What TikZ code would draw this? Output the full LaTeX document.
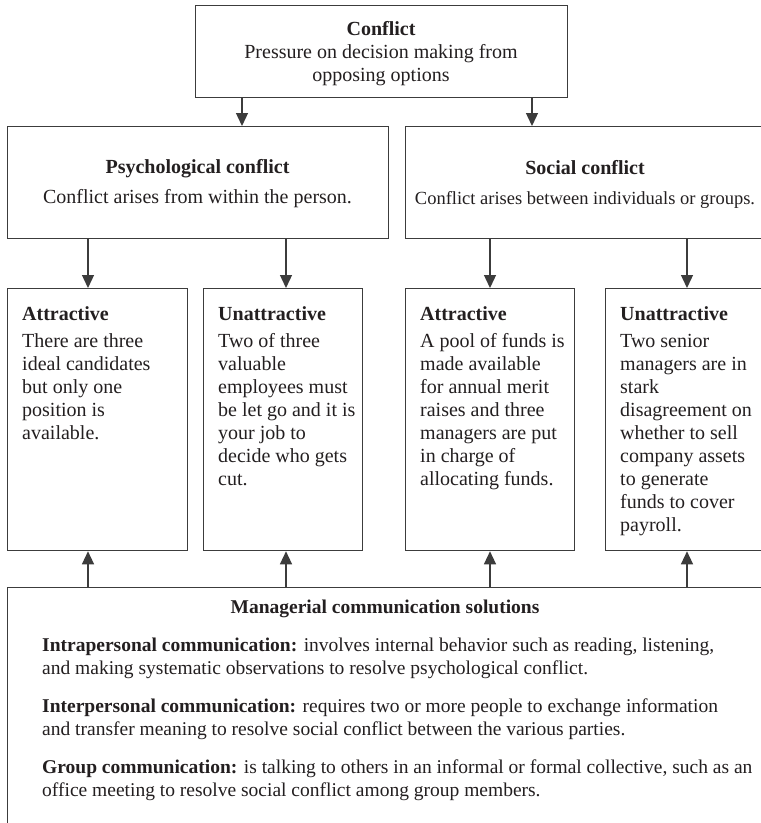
\documentclass[tikz,border=0pt]{standalone}
\usepackage{fontspec}
\setmainfont{Liberation Serif}
\usetikzlibrary{arrows.meta}
\definecolor{ink}{HTML}{231F20}
\definecolor{rulegray}{HTML}{3C3C3C}
\begin{document}
\begin{tikzpicture}[x=1pt,y=-1pt,
  box/.style={draw=rulegray, line width=1.3pt, inner sep=0pt, anchor=north west},
  txt/.style={inner sep=0pt, text=ink, font=\fontsize{20}{23}\selectfont, align=left},
  soltxt/.style={inner sep=0pt, text=ink, font=\fontsize{19.5}{23}\selectfont, align=left, anchor=north west},
  arr/.style={draw=rulegray, line width=1.3pt, -{Triangle[length=13pt,width=12pt]}},
]
\useasboundingbox (0,0) rectangle (761,823);
\clip (0,0) rectangle (761,823);
\fill[white] (0,0) rectangle (761,823);

% boxes
\node[box, minimum width=372pt, minimum height=92pt] (top) at (195,5) {};
\node[box, minimum width=381pt, minimum height=112pt] (psy) at (7,126) {};
\node[box, minimum width=360pt, minimum height=112pt] (soc) at (405,126) {};
\node[box, minimum width=180pt, minimum height=262pt] (a1) at (7,288) {};
\node[box, minimum width=159pt, minimum height=262pt] (u1) at (203,288) {};
\node[box, minimum width=169pt, minimum height=262pt] (a2) at (405,288) {};
\node[box, minimum width=164pt, minimum height=262pt] (u2) at (605,288) {};
\node[box, minimum width=760pt, minimum height=260pt] (sol) at (7,587) {};

% connector columns
\coordinate (c1) at (242,0);
\coordinate (c2) at (532,0);
\coordinate (k1) at (88,0);
\coordinate (k2) at (286,0);
\coordinate (k3) at (490,0);
\coordinate (k4) at (687,0);

\draw[arr] (c1 |- top.south) -- (c1 |- psy.north);
\draw[arr] (c2 |- top.south) -- (c2 |- soc.north);
\draw[arr] (k1 |- psy.south) -- (k1 |- a1.north);
\draw[arr] (k2 |- psy.south) -- (k2 |- u1.north);
\draw[arr] (k3 |- soc.south) -- (k3 |- a2.north);
\draw[arr] (k4 |- soc.south) -- (k4 |- u2.north);
\draw[arr] (k1 |- sol.north) -- (k1 |- a1.south);
\draw[arr] (k2 |- sol.north) -- (k2 |- u1.south);
\draw[arr] (k3 |- sol.north) -- (k3 |- a2.south);
\draw[arr] (k4 |- sol.north) -- (k4 |- u2.south);

% texts
\node[txt, align=center] (toptxt) at (381,54)
  {\textbf{Conflict}\\Pressure on decision making from\\opposing options};
\node[txt, align=center] (psytxt) at (197.5,184)
  {\textbf{Psychological conflict}\\[7pt]Conflict arises from within the person.};
\node[txt, align=center] (soctxt) at (585,184)
  {\textbf{Social conflict}\\[7pt]{\fontsize{18.5}{23}\selectfont Conflict arises between individuals or groups.}};

\node[txt, anchor=north west] (a1txt) at (22,306)
  {\textbf{Attractive}\\[4pt]There are three\\ideal candidates\\but only one\\position is\\available.};
\node[txt, anchor=north west] (u1txt) at (218,306)
  {\textbf{Unattractive}\\[4pt]Two of three\\valuable\\employees must\\be let go and it is\\your job to\\decide who gets\\cut.};
\node[txt, anchor=north west] (a2txt) at (420,306)
  {\textbf{Attractive}\\[4pt]A pool of funds is\\made available\\for annual merit\\raises and three\\managers are put\\in charge of\\allocating funds.};
\node[txt, anchor=north west] (u2txt) at (620,306)
  {\textbf{Unattractive}\\[4pt]Two senior\\managers are in\\stark\\disagreement on\\whether to sell\\company assets\\to generate\\funds to cover\\payroll.};

\node[inner sep=0pt, text=ink, font=\bfseries\fontsize{19.5}{23}\selectfont] (soltitle) at (385,609)
  {Managerial communication solutions};
\node[soltxt] (intra) at (42,638)
  {\textbf{Intrapersonal communication:} involves internal behavior such as reading, listening,\\and making systematic observations to resolve psychological conflict.};
\node[soltxt] (inter) at (42,699)
  {\textbf{Interpersonal communication:} requires two or more people to exchange information\\and transfer meaning to resolve social conflict between the various parties.};
\node[soltxt] (group) at (42,760)
  {\textbf{Group communication:} is talking to others in an informal or formal collective, such as an\\office meeting to resolve social conflict among group members.};
\end{tikzpicture}
\end{document}
